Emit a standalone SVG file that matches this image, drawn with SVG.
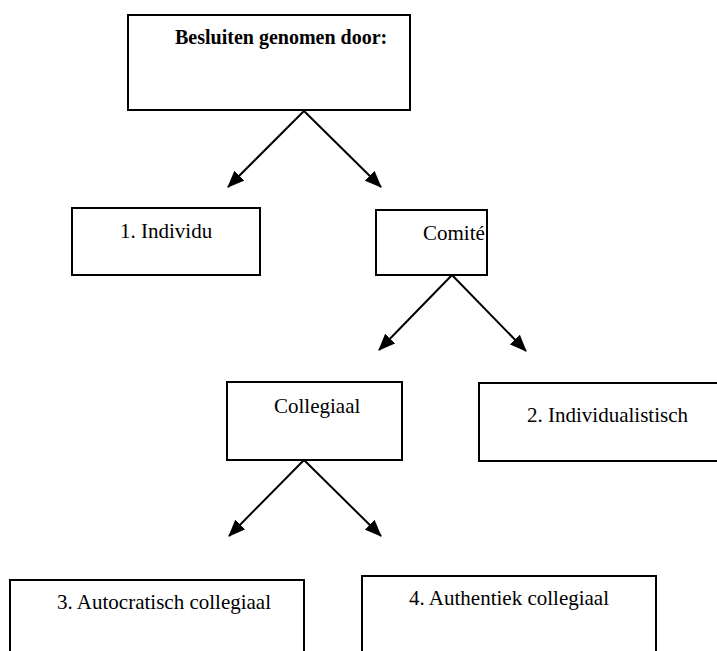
<svg xmlns="http://www.w3.org/2000/svg" width="717" height="651" viewBox="0 0 717 651">
<style>
.box{fill:#fff;stroke:#000;stroke-width:2}
.t{font-family:"Liberation Serif","Times New Roman",serif;font-size:21px;fill:#000}
.b{font-weight:bold;font-size:20px}
.c{fill:none;stroke:#000;stroke-width:2}
</style>
<defs>
<marker id="ah" markerWidth="17" markerHeight="14" refX="16" refY="7" orient="auto" markerUnits="userSpaceOnUse" viewBox="0 0 17 14">
<path d="M0,0 L17,7 L0,14 Z" fill="#000"/>
</marker>
</defs>
<rect width="717" height="651" fill="#fff"/>
<g id="n-top"><rect class="box" x="128" y="15" width="282" height="95"/><text class="t b" x="175" y="44">Besluiten genomen door:</text></g>
<g id="n-individu"><rect class="box" x="72" y="208" width="188" height="67"/><text class="t" x="120" y="238">1. Individu</text></g>
<g id="n-comite"><rect class="box" x="376" y="210" width="111" height="65"/><text class="t" x="423" y="240">Comité</text></g>
<g id="n-collegiaal"><rect class="box" x="227" y="382" width="175" height="78"/><text class="t" x="274" y="413">Collegiaal</text></g>
<g id="n-individualistisch"><rect class="box" x="479" y="383" width="250" height="78"/><text class="t" x="527" y="422">2. Individualistisch</text></g>
<g id="n-autocratisch"><rect class="box" x="10" y="580" width="294" height="90"/><text class="t" x="57" y="609">3. Autocratisch collegiaal</text></g>
<g id="n-authentiek"><rect class="box" x="362" y="576" width="294" height="90"/><text class="t" x="409" y="605">4. Authentiek collegiaal</text></g>
<g id="connectors">
<path class="c" d="M304,111 L228,187" marker-end="url(#ah)"/>
<path class="c" d="M304,111 L381,187" marker-end="url(#ah)"/>
<path class="c" d="M452,275 L379,350" marker-end="url(#ah)"/>
<path class="c" d="M452,275 L526,351" marker-end="url(#ah)"/>
<path class="c" d="M304,460 L229,536" marker-end="url(#ah)"/>
<path class="c" d="M304,460 L381,536" marker-end="url(#ah)"/>
</g>
</svg>
